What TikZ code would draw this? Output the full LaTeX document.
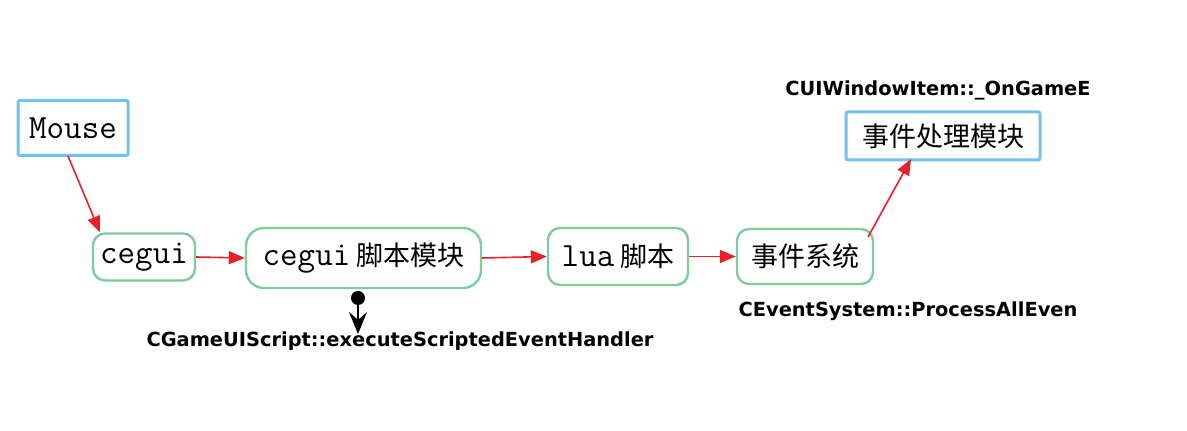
\documentclass[tikz,border=0pt]{standalone}
\usepackage{fontspec}
\setsansfont{DejaVu Sans}
\newfontfamily\cjk{Noto Sans CJK SC}
\usetikzlibrary{arrows.meta}
\definecolor{bluebd}{HTML}{6EC4EE}
\definecolor{greenbd}{HTML}{80CC98}
\definecolor{redar}{HTML}{E8202A}
\tikzset{
  bluebox/.style={draw=bluebd, line width=1.5pt, rounded corners=1pt, inner sep=0pt, fill=white},
  greenbox/.style={draw=greenbd, line width=1.2pt, rounded corners=6pt, inner sep=0pt, fill=white},
  redarrow/.style={draw=redar, line width=0.8pt, -{Triangle[length=8pt,width=6.5pt]}},
  lbl/.style={font=\sffamily\bfseries\fontsize{9.7}{11}\selectfont, inner sep=0pt},
  tt/.style={font=\ttfamily\fontsize{17}{19}\selectfont},
}
\newcommand{\zh}[1]{{\cjk\fontsize{13.5}{16}\selectfont #1}}
\begin{document}
\begin{tikzpicture}[x=0.5pt,y=-0.5pt]
\useasboundingbox (0,0) rectangle (1187,431);
\node[bluebox, tt, minimum width=55pt, minimum height=27.5pt] (mouse) at (73,128) {Mouse};
\node[greenbox, tt, minimum width=51pt, minimum height=23.5pt] (cegui) at (144,257) {cegui};
\node[greenbox, tt, rounded corners=9pt, minimum width=117.5pt, minimum height=30pt] (cscript) at (363.5,258) {cegui\hspace{3pt}\zh{脚本模块}\hspace{4pt}};
\node[greenbox, tt, minimum width=70pt, minimum height=28.5pt] (lua) at (618,256.5) {lua\hspace{3pt}\zh{脚本}};
\node[greenbox, minimum width=68pt, minimum height=27.5pt] (evsys) at (805,256.5) {\zh{事件系统}};
\node[bluebox, minimum width=97pt, minimum height=24pt] (evproc) at (943,136) {\zh{事件处理模块}};

\node[lbl] (l1) at (938,90) {CUIWindowItem::\_OnGameE};
\node[lbl] (l2) at (908,311) {CEventSystem::ProcessAllEven};
\node[lbl] (l3) at (400,341) {CGameUIScript::executeScriptedEventHandler};

\coordinate (dot) at (358,298);
\fill (dot) circle (3.5pt);
\draw[line width=0.9pt, -{Stealth[length=11pt,width=9pt,inset=4pt]}] (dot) -- (358,334);

\draw[redarrow] (68,156) -- (cegui.north west -| 100,0) ;
\draw[redarrow] (cegui.east) -- (cscript.west);
\draw[redarrow] (cscript.east) -- (lua.west);
\draw[redarrow] (lua.east) -- (evsys.west);
\draw[redarrow] (868,237) -- (911,159);
\end{tikzpicture}
\end{document}
